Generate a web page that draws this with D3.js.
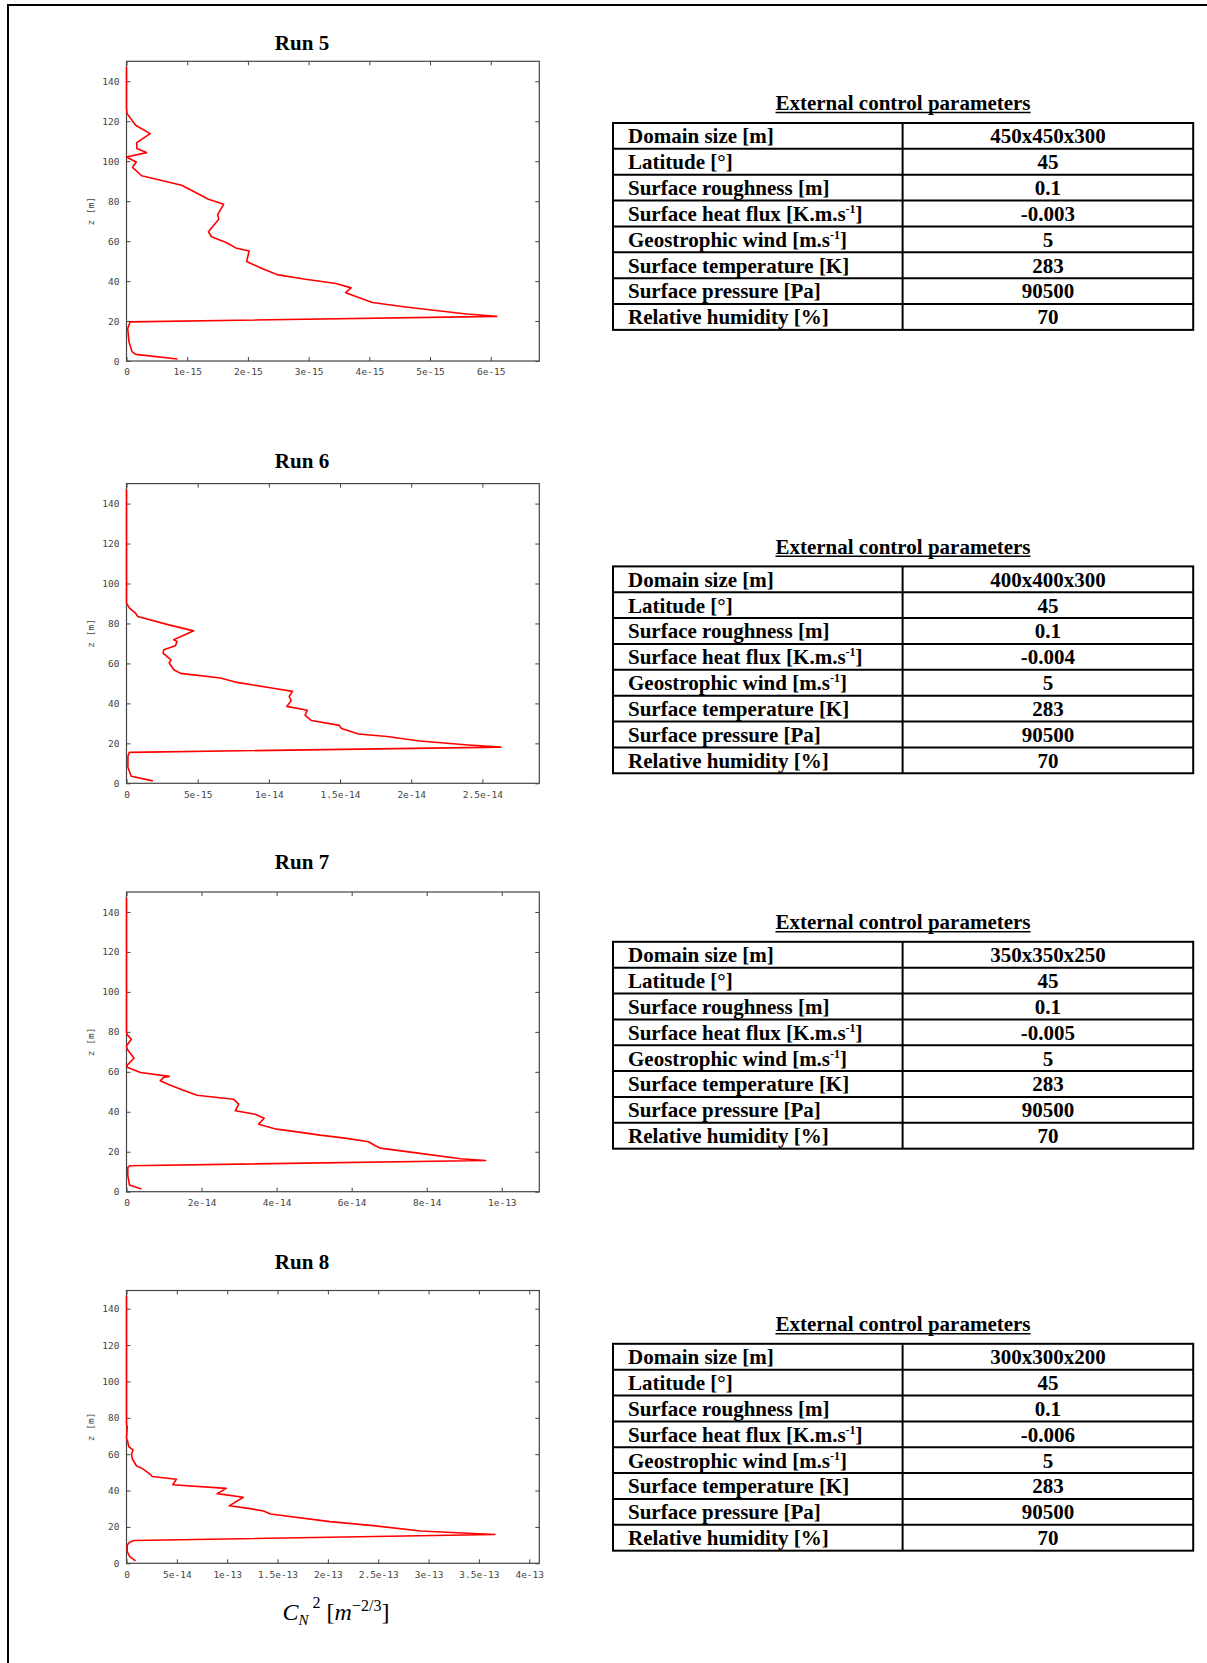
<!DOCTYPE html>
<html>
<head>
<meta charset="utf-8">
<script src="https://cdn.jsdelivr.net/npm/d3@7"></script>
<style>
  body { margin: 0; background: #fff; }
  svg { display: block; }
  .tick text { font-family: "DejaVu Sans Mono", monospace; font-size: 9.5px; fill: #444; }
  .tick line { stroke: #444; }
</style>
</head>
<body>
<div id="chart"></div>
<script>
const width = 1207;
const height = 1663;

// profiles: [z (m), Cn2 (m^-2/3)]
const run5 = [
  [1.0, 8.4e-16], [3.3, 1.5e-16], [4.7, 9e-17], [9.7, 4e-17], [16.3, 2e-17], [19.6, 6e-17],
  [22.35, 6.1e-15], [23.5, 5.6e-15], [27.0, 4.6e-15], [29.3, 4.05e-15], [34.2, 3.61e-15],
  [36.6, 3.70e-15], [38.8, 3.45e-15], [40.9, 2.95e-15], [43.1, 2.50e-15], [46.0, 2.25e-15],
  [49.8, 1.98e-15], [55.1, 2.02e-15], [56.6, 1.80e-15], [59.3, 1.64e-15], [62.2, 1.40e-15],
  [64.7, 1.35e-15], [71.0, 1.52e-15], [73.3, 1.50e-15], [78.4, 1.60e-15], [81.0, 1.35e-15],
  [83.3, 1.2e-15], [88.0, 9.1e-16], [92.7, 2.5e-16], [96.9, 1.0e-16], [99.6, 1.6e-16],
  [102.1, 0], [104.3, 3.3e-16], [106.3, 1.7e-16], [109.3, 1.7e-16], [113.8, 3.9e-16],
  [118.0, 1.5e-16], [123.8, 1e-17], [126, 0], [147, 0]
];
const run6 = [
  [1.2, 1.85e-15], [3.5, 3.3e-16], [8, 1e-16], [13.5, 1e-16], [15.5, 2e-16],
  [18.1, 2.63e-14], [19.2, 2.40e-14], [21.2, 2.06e-14], [23.4, 1.83e-14], [24.7, 1.63e-14],
  [26.0, 1.57e-14], [27.4, 1.51e-14], [29.0, 1.495e-14], [31.4, 1.30e-14], [34.0, 1.255e-14],
  [36.6, 1.27e-14], [38.5, 1.126e-14], [41.3, 1.157e-14], [43.5, 1.143e-14], [46.0, 1.166e-14],
  [47.7, 1.02e-14], [50.5, 7.76e-15], [52.7, 6.6e-15], [55.0, 3.8e-15], [56.8, 3.32e-15],
  [60.2, 3.0e-15], [61.8, 3.13e-15], [63.0, 2.92e-15], [65.2, 2.57e-15], [66.8, 2.62e-15],
  [68.8, 3.43e-15], [71.0, 3.55e-15], [71.8, 3.32e-15], [76.3, 4.72e-15], [79.3, 2.97e-15],
  [83.5, 7.9e-16], [85.2, 6.3e-16], [87.7, 2.1e-16], [90.2, 0], [147, 0]
];
const run7 = [
  [1.3, 4e-15], [3.3, 8e-16], [8, 3.5e-16], [12.2, 3.5e-16], [13.0, 9e-16],
  [15.6, 9.57e-14], [16.5, 8.9e-14], [19.2, 7.82e-14], [21.8, 6.76e-14], [23.0, 6.63e-14],
  [25.0, 6.45e-14], [26.7, 5.87e-14], [28.3, 5.16e-14], [30.2, 4.45e-14], [31.3, 4.0e-14],
  [33.8, 3.52e-14], [36.8, 3.67e-14], [38.8, 3.43e-14], [40.5, 2.9e-14], [43.8, 2.99e-14],
  [46.3, 2.85e-14], [48.3, 1.88e-14], [51.0, 1.48e-14], [53.3, 1.17e-14], [55.5, 9.0e-15],
  [57.2, 9.9e-15], [57.7, 1.14e-14], [59.7, 3.7e-15], [62.2, 3.5e-16], [63.0, 0],
  [66.8, 2e-15], [71.3, 2e-16], [73.0, 0], [76.3, 1.3e-15], [78.5, 2e-16], [79.7, 0], [147, 0]
];
const run8 = [
  [1.3, 8.9e-15], [3.7, 3.3e-15], [6.4, 7e-16], [10.1, 7e-16], [11.5, 3e-15], [12.5, 7.3e-15],
  [15.8, 3.66e-13], [16.5, 3.39e-13], [17.8, 2.92e-13], [20.7, 2.45e-13], [22.9, 2.02e-13],
  [27.1, 1.43e-13], [28.8, 1.36e-13], [30.2, 1.21e-13], [31.6, 1.02e-13], [36.3, 1.16e-13],
  [38.3, 9.0e-14], [41.2, 9.9e-14], [43.2, 4.6e-14], [46.2, 4.95e-14], [47.7, 2.55e-14],
  [49.2, 2.3e-14], [52.2, 1.55e-14], [53.5, 1.0e-14], [57.2, 6e-15], [60.0, 5e-15],
  [62.3, 6.4e-15], [64.1, 2.3e-15], [66.9, 1.2e-15], [68.7, 0], [75.0, 7e-16], [76.5, 0], [147, 0]
];

// axes
const zTicks = [0, 20, 40, 60, 80, 100, 120, 140];
const run5Ticks = [0, 1e-15, 2e-15, 3e-15, 4e-15, 5e-15, 6e-15];
const run5TickLabels = ["0", "1e-15", "2e-15", "3e-15", "4e-15", "5e-15", "6e-15"];
const run6Ticks = [0, 5e-15, 1e-14, 1.5e-14, 2e-14, 2.5e-14];
const run6TickLabels = ["0", "5e-15", "1e-14", "1.5e-14", "2e-14", "2.5e-14"];
const run7Ticks = [0, 2e-14, 4e-14, 6e-14, 8e-14, 1e-13];
const run7TickLabels = ["0", "2e-14", "4e-14", "6e-14", "8e-14", "1e-13"];
const run8Ticks = [0, 5e-14, 1e-13, 1.5e-13, 2e-13, 2.5e-13, 3e-13, 3.5e-13, 4e-13];
const run8TickLabels = ["0", "5e-14", "1e-13", "1.5e-13", "2e-13", "2.5e-13", "3e-13", "3.5e-13", "4e-13"];

// tables
const paramNames = [
  ["Domain size [m]"],
  ["Latitude [°]"],
  ["Surface roughness [m]"],
  ["Surface heat flux [K.m.s", "-1", "]"],
  ["Geostrophic wind [m.s", "-1", "]"],
  ["Surface temperature [K]"],
  ["Surface pressure [Pa]"],
  ["Relative humidity [%]"]
];
const domainSizes = ["450x450x300", "400x400x300", "350x350x250", "300x300x200"];
const heatFluxes = ["-0.003", "-0.004", "-0.005", "-0.006"];
const latitude = "45", roughness = "0.1", geoWind = "5", surfTemp = "283", surfPres = "90500", humidity = "70";

const svg = d3.select("#chart").append("svg")
  .attr("width", width)
  .attr("height", height);

svg.append("rect").attr("width", width).attr("height", height).attr("fill", "#fff");

// page border (runs off right and bottom)
svg.append("rect")
  .attr("x", 8).attr("y", 5)
  .attr("width", 1400).attr("height", 1800)
  .attr("fill", "none").attr("stroke", "#000").attr("stroke-width", 2);

const plotLeft = 126.5;
const plotWidth = 412.8;

const panels = [
  { title: "Run 5", data: run5, xMax: 6.8e-15, ticks: run5Ticks, labels: run5TickLabels, top: 61.3, bottom: 361, titleY: 50, tableTop: 123, titleTableY: 110 },
  { title: "Run 6", data: run6, xMax: 2.9e-14, ticks: run6Ticks, labels: run6TickLabels, top: 483.6, bottom: 783.3, titleY: 467.8, tableTop: 566.4, titleTableY: 553.8 },
  { title: "Run 7", data: run7, xMax: 1.1e-13, ticks: run7Ticks, labels: run7TickLabels, top: 892, bottom: 1191.7, titleY: 869, tableTop: 941.8, titleTableY: 929.2 },
  { title: "Run 8", data: run8, xMax: 4.1e-13, ticks: run8Ticks, labels: run8TickLabels, top: 1290.5, bottom: 1563.3, titleY: 1269.4, tableTop: 1343.8, titleTableY: 1331.2 }
];

panels.forEach((p, idx) => {
  const g = svg.append("g");
  const x = d3.scaleLinear().domain([0, p.xMax]).range([plotLeft, plotLeft + plotWidth]);
  const y = d3.scaleLinear().domain([0, 150]).range([p.bottom, p.top]);

  g.append("text")
    .attr("x", 302).attr("y", p.titleY)
    .attr("text-anchor", "middle")
    .attr("font-family", "Liberation Serif, Times New Roman, serif")
    .attr("font-weight", "bold")
    .attr("font-size", 21)
    .text(p.title);

  // axes with inward ticks, mirrored on top/right
  const bottomAxis = g.append("g")
    .attr("transform", `translate(0,${p.bottom})`)
    .call(d3.axisBottom(x).tickValues(p.ticks).tickFormat((d, i) => p.labels[i])
      .tickSizeInner(-4).tickSizeOuter(0).tickPadding(7.5));
  const topAxis = g.append("g")
    .attr("transform", `translate(0,${p.top})`)
    .call(d3.axisTop(x).tickValues(p.ticks).tickFormat("").tickSizeInner(-4).tickSizeOuter(0));
  const leftAxis = g.append("g")
    .attr("transform", `translate(${plotLeft},0)`)
    .call(d3.axisLeft(y).tickValues(zTicks).tickSizeInner(-4).tickSizeOuter(0).tickPadding(7));
  const rightAxis = g.append("g")
    .attr("transform", `translate(${plotLeft + plotWidth},0)`)
    .call(d3.axisRight(y).tickValues(zTicks).tickFormat("").tickSizeInner(-4).tickSizeOuter(0));
  [bottomAxis, topAxis, leftAxis, rightAxis].forEach(a => a.select(".domain").remove());

  g.append("rect")
    .attr("x", plotLeft).attr("y", p.top)
    .attr("width", plotWidth).attr("height", p.bottom - p.top)
    .attr("fill", "none").attr("stroke", "#444").attr("stroke-width", 1.2);

  g.append("text")
    .attr("transform", `translate(91,${(p.top + p.bottom) / 2}) rotate(-90)`)
    .attr("text-anchor", "middle")
    .attr("dy", "0.32em")
    .attr("font-family", "DejaVu Sans Mono, monospace")
    .attr("font-size", 9.5)
    .attr("fill", "#444")
    .text("z [m]");

  const line = d3.line().x(d => x(d[1])).y(d => y(d[0]));
  g.append("path")
    .datum(p.data)
    .attr("d", line)
    .attr("fill", "none")
    .attr("stroke", "#ff0000")
    .attr("stroke-width", 1.6)
    .attr("stroke-linejoin", "round");

  drawTable(idx, p.tableTop, p.titleTableY);
});

// x label under the last panel
const xLabel = svg.append("text")
  .attr("x", 336).attr("y", 1619.5)
  .attr("text-anchor", "middle")
  .attr("font-family", "Liberation Serif, Times New Roman, serif")
  .attr("font-size", 24);
xLabel.append("tspan").attr("font-style", "italic").text("C");
xLabel.append("tspan").attr("font-style", "italic").attr("font-size", 15).attr("dy", 5).text("N");
xLabel.append("tspan").attr("font-size", 16).attr("dx", 4).attr("dy", -17).text("2");
xLabel.append("tspan").attr("dx", 6).attr("dy", 12).text("[");
xLabel.append("tspan").attr("font-style", "italic").text("m");
xLabel.append("tspan").attr("font-size", 16).attr("dy", -9).text("\u22122/3");
xLabel.append("tspan").attr("dy", 9).text("]");

function drawTable(idx, top, titleY) {
  const left = 613, mid = 902.6, right = 1193.2;
  const rowH = 25.86;
  const values = [domainSizes[idx], latitude, roughness, heatFluxes[idx], geoWind, surfTemp, surfPres, humidity];
  const font = "Liberation Serif, Times New Roman, serif";
  const g = svg.append("g");

  const title = g.append("text")
    .attr("x", (mid + 0.4)).attr("y", titleY)
    .attr("text-anchor", "middle")
    .attr("font-family", font).attr("font-weight", "bold").attr("font-size", 21)
    .text("External control parameters");
  const bb = title.node().getBBox();
  g.append("line")
    .attr("x1", bb.x).attr("x2", bb.x + bb.width)
    .attr("y1", titleY + 2.5).attr("y2", titleY + 2.5)
    .attr("stroke", "#000").attr("stroke-width", 1.4);

  paramNames.forEach((parts, i) => {
    const yb = top + i * rowH + 20.3;
    const t = g.append("text")
      .attr("x", left + 15).attr("y", yb)
      .attr("font-family", font).attr("font-weight", "bold").attr("font-size", 21);
    t.append("tspan").text(parts[0]);
    if (parts.length > 1) {
      t.append("tspan").attr("font-size", 12).attr("dy", -8).text(parts[1]);
      t.append("tspan").attr("dy", 8).text(parts[2]);
    }
    g.append("text")
      .attr("x", (mid + right) / 2).attr("y", yb)
      .attr("text-anchor", "middle")
      .attr("font-family", font).attr("font-weight", "bold").attr("font-size", 21)
      .text(values[i]);
    if (i > 0) {
      g.append("line")
        .attr("x1", left).attr("x2", right)
        .attr("y1", top + i * rowH).attr("y2", top + i * rowH)
        .attr("stroke", "#000").attr("stroke-width", 2);
    }
  });

  g.append("line")
    .attr("x1", mid).attr("x2", mid)
    .attr("y1", top).attr("y2", top + 8 * rowH)
    .attr("stroke", "#000").attr("stroke-width", 2);
  g.append("rect")
    .attr("x", left).attr("y", top)
    .attr("width", right - left).attr("height", 8 * rowH)
    .attr("fill", "none").attr("stroke", "#000").attr("stroke-width", 2);
}
</script>
</body>
</html>
